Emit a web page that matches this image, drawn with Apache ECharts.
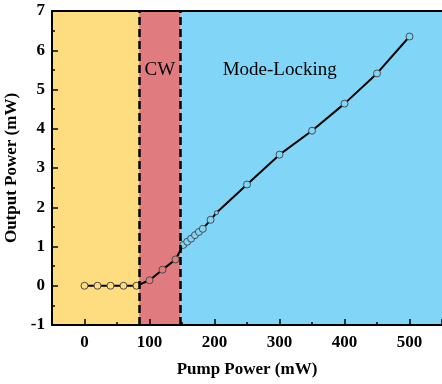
<!DOCTYPE html>
<html>
<head>
<meta charset="utf-8">
<script src="https://cdn.jsdelivr.net/npm/echarts@6/dist/echarts.min.js"></script>
<style>
  html, body { margin: 0; padding: 0; background: #fff; }
  #chart { width: 442px; height: 384px; }
</style>
</head>
<body>
<div id="chart"></div>
<script>
// pump power (mW) and output power (mW)
const pump = [0, 20, 40, 60, 80, 100, 120, 140, 152, 158, 164, 170, 176, 182, 194, 203, 250, 300, 350, 400, 450, 500];
const output = [0, 0, 0, 0, 0, 0.14, 0.41, 0.67, 1.04, 1.12, 1.2, 1.29, 1.37, 1.45, 1.68, 1.86, 2.58, 3.34, 3.95, 4.64, 5.41, 6.35];

// regime boundaries (mW)
const cwStart = 84;
const mlStart = 148;
const regionNames = ['', 'CW', 'Mode-Locking'];

const xMin = -50, xMax = 550;
const yMin = -1, yMax = 7;

const yellow = '#FDDD80';
const red = '#E07C7F';
const blue = '#81D6F8';
const serif = '"Liberation Serif", "DejaVu Serif", serif';

const chartDom = document.getElementById('chart');
const chart = echarts.init(chartDom);

// hollow markers look: fill with the band colour behind them
const fillFor = (x) => (x < cwStart ? yellow : x < mlStart ? red : blue);

const data = pump.map((x, i) => ({
  value: [x, output[i]],
  symbolSize: x === 203 ? 4 : 7,
  itemStyle: {color: fillFor(x)},
}));

const tickLabel = {
  fontFamily: serif,
  fontWeight: 'bold',
  fontSize: 17,
  color: '#000',
};

const options = {
  animation: false,
  grid: {left: 52, top: 11, right: 0, bottom: 59, containLabel: false, outerBoundsMode: 'none'},
  xAxis: [
    {
      type: 'value',
      min: xMin,
      max: xMax,
      position: 'bottom',
      z: 10,
      name: 'Pump Power (mW)',
      nameLocation: 'middle',
      nameGap: 36,
      nameTextStyle: {fontFamily: serif, fontWeight: 'bold', fontSize: 17, color: '#000'},
      axisLine: {onZero: false, lineStyle: {color: '#000', width: 2}},
      axisTick: {inside: true, length: 6, lineStyle: {color: '#000', width: 1.5}},
      axisLabel: Object.assign({
        margin: 9,
        formatter: (v) => (v % 100 === 0 ? String(v) : ''),
      }, tickLabel),
      splitLine: {show: false},
    },
    {
      type: 'value',
      min: xMin,
      max: xMax,
      interval: 50,
      position: 'bottom',
      z: 10,
      axisLine: {show: false, onZero: false},
      axisTick: {inside: true, length: 3, lineStyle: {color: '#000', width: 1.5}},
      axisLabel: {show: false},
      splitLine: {show: false},
    },
    {
      type: 'value',
      min: xMin,
      max: xMax,
      position: 'top',
      z: 10,
      axisLine: {onZero: false, lineStyle: {color: '#000', width: 2}},
      axisTick: {show: false},
      axisLabel: {show: false},
      splitLine: {show: false},
    },
  ],
  yAxis: {
    type: 'value',
    min: yMin,
    max: yMax,
    interval: 1,
    z: 10,
    name: 'Output Power (mW)',
    nameLocation: 'middle',
    nameGap: 29,
    nameTextStyle: {fontFamily: serif, fontWeight: 'bold', fontSize: 17, color: '#000'},
    axisLine: {show: true, onZero: false, lineStyle: {color: '#000', width: 2}},
    axisTick: {show: true, inside: true, length: 6, lineStyle: {color: '#000', width: 1.5}},
    minorTick: {show: true, splitNumber: 2, length: 3, lineStyle: {color: '#000', width: 1.5}},
    axisLabel: Object.assign({margin: 7}, tickLabel),
    splitLine: {show: false},
  },
  series: [
    {
      // coloured regime bands
      type: 'line',
      data: [],
      z: 1,
      silent: true,
      markArea: {
        silent: true,
        label: {fontFamily: serif, fontSize: 19, color: '#000'},
        data: [
          [{xAxis: xMin, itemStyle: {color: yellow}}, {xAxis: cwStart}],
          [{xAxis: cwStart, itemStyle: {color: red},
            name: regionNames[1], label: {position: 'insideTop', distance: 50}}, {xAxis: mlStart}],
          [{xAxis: mlStart, itemStyle: {color: blue},
            name: regionNames[2], label: {position: [42, 50]}}, {xAxis: xMax}],
        ],
      },
    },
    {
      type: 'line',
      data,
      z: 3,
      symbol: 'circle',
      showAllSymbol: true,
      lineStyle: {color: '#000', width: 2},
      itemStyle: {borderColor: '#4a4a4a', borderWidth: 1},
    },
    {
      // dashed regime boundaries
      type: 'line',
      data: [],
      z: 4,
      markLine: {
        silent: true,
        symbol: 'none',
        label: {show: false},
        lineStyle: {color: '#000', width: 2.5, type: [8, 4]},
        data: [{xAxis: cwStart}, {xAxis: mlStart}],
      },
    },
  ],
};

chart.setOption(options);
window.addEventListener('resize', chart.resize);
</script>
</body>
</html>
